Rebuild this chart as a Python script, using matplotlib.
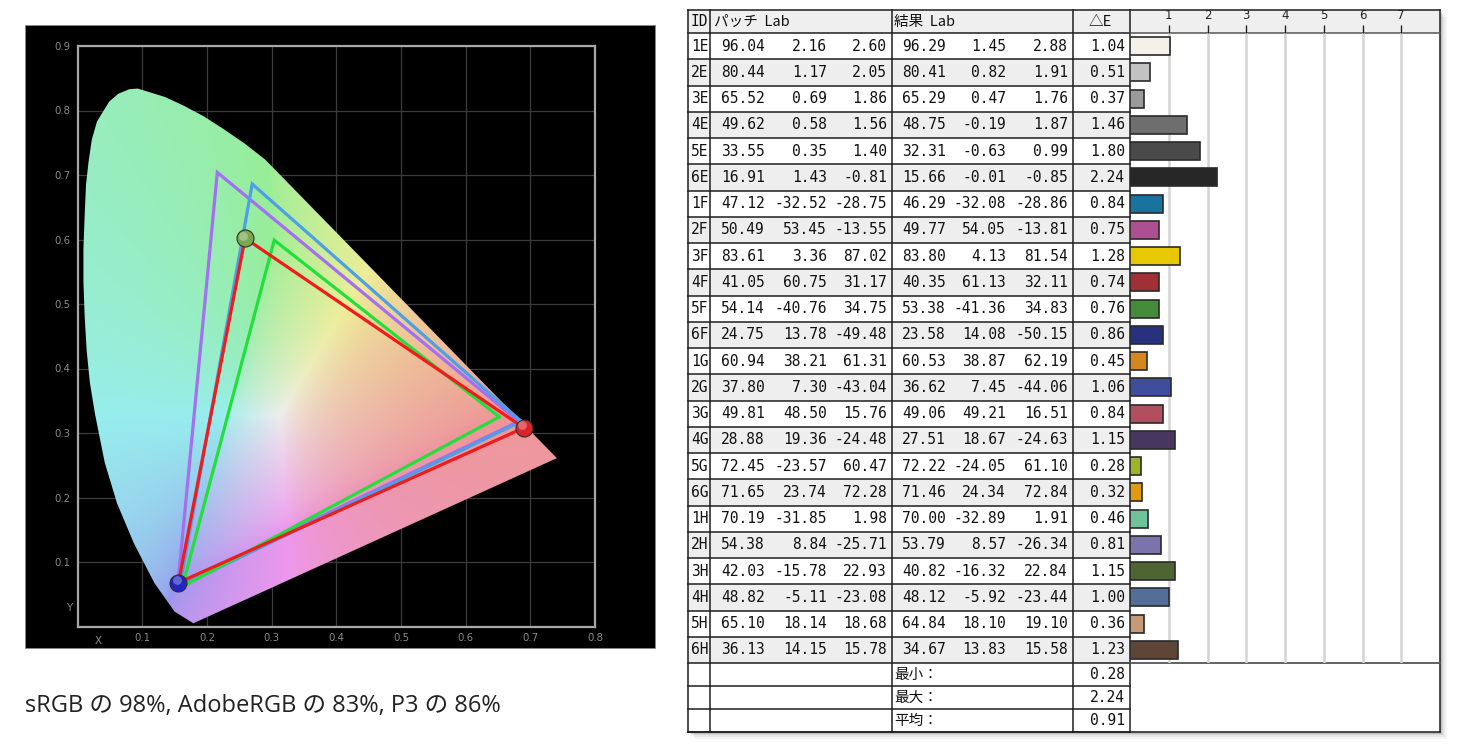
import numpy as np
import matplotlib
matplotlib.use('Agg')
import matplotlib.pyplot as plt
from matplotlib.patches import Rectangle, Polygon

W, H = 1459, 751

# horseshoe outline (x, y)
locus_x = [0.179, 0.150, 0.119, 0.087, 0.061, 0.042, 0.027, 0.019, 0.014, 0.011, 0.009,
           0.009, 0.011, 0.013, 0.017, 0.022, 0.030, 0.049, 0.063, 0.080, 0.093, 0.106,
           0.135, 0.163, 0.195, 0.226, 0.258, 0.290, 0.741]
locus_y = [0.005, 0.023, 0.067, 0.129, 0.191, 0.254, 0.329, 0.378, 0.428, 0.480, 0.534,
           0.585, 0.640, 0.685, 0.721, 0.755, 0.783, 0.814, 0.826, 0.833, 0.834, 0.830,
           0.821, 0.808, 0.791, 0.771, 0.749, 0.724, 0.261]

# gamut triangles: R, G, B
adobe_tri = [(0.682, 0.318), (0.216, 0.704), (0.155, 0.064)]
p3_tri = [(0.686, 0.318), (0.270, 0.686), (0.158, 0.062)]
srgb_tri = [(0.652, 0.325), (0.304, 0.599), (0.162, 0.062)]
meas_tri = [(0.690, 0.308), (0.259, 0.602), (0.156, 0.068)]

caption = "sRGB の 98%, AdobeRGB の 83%, P3 の 86%"

# table
ids = ['1E', '2E', '3E', '4E', '5E', '6E', '1F', '2F', '3F', '4F', '5F', '6F',
       '1G', '2G', '3G', '4G', '5G', '6G', '1H', '2H', '3H', '4H', '5H', '6H']
patch_L = [96.04, 80.44, 65.52, 49.62, 33.55, 16.91, 47.12, 50.49, 83.61, 41.05, 54.14, 24.75,
           60.94, 37.80, 49.81, 28.88, 72.45, 71.65, 70.19, 54.38, 42.03, 48.82, 65.10, 36.13]
patch_a = [2.16, 1.17, 0.69, 0.58, 0.35, 1.43, -32.52, 53.45, 3.36, 60.75, -40.76, 13.78,
           38.21, 7.30, 48.50, 19.36, -23.57, 23.74, -31.85, 8.84, -15.78, -5.11, 18.14, 14.15]
patch_b = [2.60, 2.05, 1.86, 1.56, 1.40, -0.81, -28.75, -13.55, 87.02, 31.17, 34.75, -49.48,
           61.31, -43.04, 15.76, -24.48, 60.47, 72.28, 1.98, -25.71, 22.93, -23.08, 18.68, 15.78]
result_L = [96.29, 80.41, 65.29, 48.75, 32.31, 15.66, 46.29, 49.77, 83.80, 40.35, 53.38, 23.58,
            60.53, 36.62, 49.06, 27.51, 72.22, 71.46, 70.00, 53.79, 40.82, 48.12, 64.84, 34.67]
result_a = [1.45, 0.82, 0.47, -0.19, -0.63, -0.01, -32.08, 54.05, 4.13, 61.13, -41.36, 14.08,
            38.87, 7.45, 49.21, 18.67, -24.05, 24.34, -32.89, 8.57, -16.32, -5.92, 18.10, 13.83]
result_b = [2.88, 1.91, 1.76, 1.87, 0.99, -0.85, -28.86, -13.81, 81.54, 32.11, 34.83, -50.15,
            62.19, -44.06, 16.51, -24.63, 61.10, 72.84, 1.91, -26.34, 22.84, -23.44, 19.10, 15.58]
delta_e = [1.04, 0.51, 0.37, 1.46, 1.80, 2.24, 0.84, 0.75, 1.28, 0.74, 0.76, 0.86,
           0.45, 1.06, 0.84, 1.15, 0.28, 0.32, 0.46, 0.81, 1.15, 1.00, 0.36, 1.23]
bar_colors = ['#f3f1ea', '#c2c2c2', '#9a9a9a', '#6e6e6e', '#4a4a4a', '#272727',
              '#19739e', '#ad5091', '#e8c800', '#a03036', '#468a3c', '#26327e',
              '#d6861f', '#3f4d9c', '#b0505f', '#47365f', '#99b52a', '#e09a12',
              '#70c29a', '#7a74ab', '#4d6433', '#536f98', '#c59b77', '#5e4636']
summary_labels = ['最小：', '最大：', '平均：']
summary_values = [0.28, 2.24, 0.91]
bar_ticks = [1, 2, 3, 4, 5, 6, 7]

fig = plt.figure(figsize=(W / 100, H / 100), dpi=100)
fig.patch.set_facecolor('white')

# pixel overlay for panel background, table and captions
ov = fig.add_axes([0, 0, 1, 1], zorder=-1)
ov.set_xlim(0, W)
ov.set_ylim(H, 0)
ov.axis('off')

ov.add_patch(Rectangle((25, 25), 630, 623, facecolor='black', edgecolor='#888888', lw=0.6))

# ---- chromaticity chart ----
ax = fig.add_axes([77.6 / W, (H - 626.5) / H, (595 - 77.6) / W, (626.5 - 46) / H])
ax.set_facecolor('black')
ax.set_xlim(0, 0.8)
ax.set_ylim(0, 0.9)
ax.set_xticks([0.1, 0.2, 0.3, 0.4, 0.5, 0.6, 0.7, 0.8])
ax.set_yticks([0.1, 0.2, 0.3, 0.4, 0.5, 0.6, 0.7, 0.8, 0.9])
ax.set_xticklabels(['0.1', '0.2', '0.3', '0.4', '0.5', '0.6', '0.7', '0.8'])
ax.set_yticklabels(['0.1', '0.2', '0.3', '0.4', '0.5', '0.6', '0.7', '0.8', '0.9'])
ax.tick_params(length=0, colors='#8c8c8c', labelsize=7.3, pad=5)
ax.grid(True, color='#3c3c3c', lw=0.9)
ax.set_axisbelow(True)
for s in ax.spines.values():
    s.set_color('#a8a8a8')
    s.set_linewidth(1.6)
ax.text(0.032, -0.014, 'X', color='#8c8c8c', fontsize=7.3, ha='center', va='top')
ax.text(-0.007, 0.029, 'Y', color='#8c8c8c', fontsize=7.3, ha='right', va='center')

# pastel chromaticity colours for the background of the horseshoe
gx, gy = np.meshgrid(np.linspace(0, 0.8, 400), np.linspace(0.002, 0.9, 450))
X = gx / gy
Z = (1 - gx - gy) / gy
r = 3.2406 * X - 1.5372 - 0.4986 * Z
g = -0.9689 * X + 1.8758 + 0.0415 * Z
b = 0.0557 * X - 0.2040 + 1.0570 * Z
rgb = np.stack([r, g, b], axis=-1)
rgb = rgb - np.minimum(rgb.min(axis=-1, keepdims=True), 0)
rgb = rgb / rgb.max(axis=-1, keepdims=True)
rgb = np.clip(rgb, 0, 1)
rgb[..., 2] = rgb[..., 2] ** 1.8
rgb = rgb ** (1 / 1.6)
rgb = 0.93 * (0.36 * rgb + 0.64)
im = ax.imshow(rgb, origin='lower', extent=[0, 0.8, 0, 0.9], aspect='auto', zorder=1,
               interpolation='bilinear')
horseshoe = Polygon(np.column_stack([locus_x, locus_y]), closed=True,
                    transform=ax.transData, facecolor='none', edgecolor='none')
ax.add_patch(horseshoe)
im.set_clip_path(horseshoe)

for tri, col in [(adobe_tri, '#a46ff0'), (p3_tri, '#4d9fe6'),
                 (srgb_tri, '#22e03c'), (meas_tri, '#f01c1c')]:
    pts = tri + [tri[0]]
    ax.plot([p[0] for p in pts], [p[1] for p in pts], color=col, lw=2.3, zorder=3,
            solid_joinstyle='miter')

ball_cols = ['#d8242a', '#7aa84e', '#2424c0']
for (bx, by), bc in zip(meas_tri, ball_cols):
    ax.scatter([bx], [by], s=150, color=bc, edgecolor='#303030', lw=0.8, zorder=4)
    ax.scatter([bx - 0.003], [by + 0.004], s=40, color='white', alpha=0.3, lw=0, zorder=5)

# datacolor logo
ov.text(440, 606, 'datacolor', color='white', fontsize=10.5, fontweight='bold',
        ha='left', va='center', zorder=6)
ov.add_patch(Rectangle((523, 602), 55, 9, facecolor='#e01c28', edgecolor='none', zorder=6))
ov.plot([440, 578], [614.5, 614.5], color='#d0d0d0', lw=1.3, zorder=6)

ov.text(25, 706, caption, fontsize=17, color='#222222', ha='left', va='center',
        family=['Open Sans', 'Noto Sans CJK JP'])

# ---- table ----
tx0, tx1, tx_bar, tx_end = 688, 1130, 1130, 1440
ty0, ty_head, row_h = 10, 33, 26.25
ty_rows_end = ty_head + row_h * len(ids)
sum_h = 23
ty_end = ty_rows_end + sum_h * len(summary_labels)

for k, a in [(7, 0.06), (5, 0.08), (3, 0.12), (1.5, 0.15)]:
    ov.add_patch(Rectangle((tx0 + k, ty0 + k), tx_end - tx0, ty_end - ty0,
                           facecolor='#505050', edgecolor='none', alpha=a))
ov.add_patch(Rectangle((tx0, ty0), tx_end - tx0, ty_end - ty0, facecolor='white',
                       edgecolor='none'))
ov.add_patch(Rectangle((tx0, ty0), tx_end - tx0, ty_head - ty0, facecolor='#efefef',
                       edgecolor='none'))
for i in range(len(ids)):
    if i % 2 == 1:
        ov.add_patch(Rectangle((tx0, ty_head + i * row_h), tx1 - tx0, row_h,
                               facecolor='#eeeeee', edgecolor='none'))

line_kw = dict(color='#1e1e1e', lw=1.1, zorder=3)
for i in range(len(ids) + 1):
    yy = ty_head + i * row_h
    ov.plot([tx0, tx1], [yy, yy], **line_kw)
for k in range(1, len(summary_labels) + 1):
    yy = ty_rows_end + k * sum_h
    ov.plot([tx0, tx1], [yy, yy], **line_kw)
for xx in [tx0, 710, 892, 1073, tx1]:
    ov.plot([xx, xx], [ty0, ty_end], **line_kw)
ov.plot([tx0, tx_end], [ty0, ty0], **line_kw)
ov.plot([tx_end, tx_end], [ty0, ty_end], **line_kw)
ov.plot([tx0, tx_end], [ty_end, ty_end], **line_kw)
ov.plot([tx_bar, tx_end], [ty_head, ty_head], color='#555555', lw=1.1, zorder=3)
ov.plot([tx_bar, tx_end], [ty_rows_end, ty_rows_end], color='#555555', lw=1.3, zorder=3)

mono = dict(family='DejaVu Sans Mono', fontsize=10.5, color='#111111', va='center', zorder=4)
jp = dict(family=['Noto Sans CJK JP', 'DejaVu Sans'], fontsize=10.5, color='#111111',
          va='center', zorder=4)
hy = (ty0 + ty_head) / 2
ov.text(691, hy, 'ID', ha='left', **mono)
ov.text(714, hy, 'パッチ  Lab', ha='left', **jp)
ov.text(894, hy, '結果  Lab', ha='left', **jp)
ov.text(1100, hy, '△E', ha='center', **jp)

col_right = [765, 827, 887, 946, 1006, 1068, 1125]
for i, rid in enumerate(ids):
    yy = ty_head + (i + 0.5) * row_h
    ov.text(691, yy, rid, ha='left', **mono)
    vals = [patch_L[i], patch_a[i], patch_b[i], result_L[i], result_a[i], result_b[i],
            delta_e[i]]
    for xr, v in zip(col_right, vals):
        ov.text(xr, yy, f'{v:.2f}', ha='right', **mono)
for k, (lab, v) in enumerate(zip(summary_labels, summary_values)):
    yy = ty_rows_end + (k + 0.5) * sum_h
    ov.text(894, yy, lab, ha='left', **jp)
    ov.text(1125, yy, f'{v:.2f}', ha='right', **mono)

# ---- delta E bars ----
bx = fig.add_axes([tx_bar / W, (H - ty_rows_end) / H, (tx_end - tx_bar) / W,
                   (ty_rows_end - ty_head) / H])
bx.set_facecolor('none')
bx.set_xlim(0, 8)
bx.set_ylim(len(ids) - 0.5, -0.5)
bx.barh(range(len(ids)), delta_e, height=0.68, color=bar_colors, edgecolor='#2a2a2a',
        lw=1.2, zorder=3)
bx.set_xticks(bar_ticks)
bx.set_xticklabels([str(t) for t in bar_ticks])
bx.xaxis.tick_top()
bx.tick_params(axis='x', direction='out', length=6, width=1, colors='#222222',
               labelsize=8.5, pad=2)
bx.set_yticks([])
bx.grid(True, axis='x', color='#d4d4d4', lw=1.8, zorder=0)
for s in bx.spines.values():
    s.set_visible(False)

fig.savefig('out.png', dpi=100)
